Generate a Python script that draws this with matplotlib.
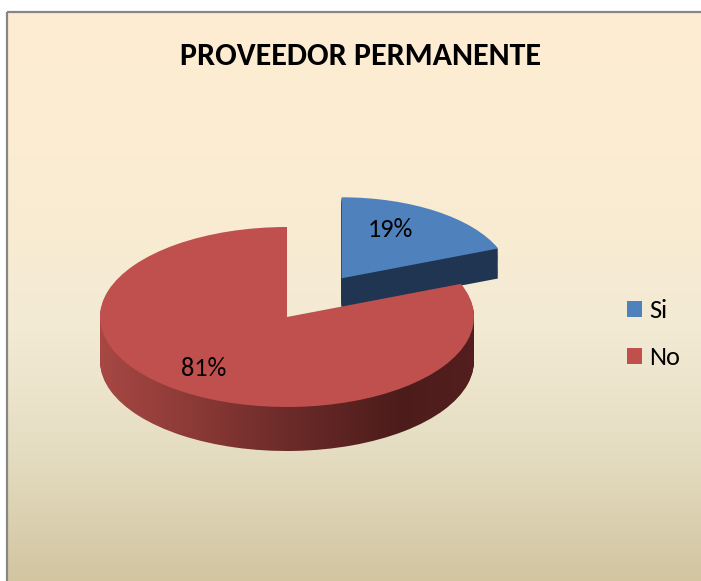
import numpy as np
import matplotlib
matplotlib.use('Agg')
import matplotlib.pyplot as plt
from matplotlib.lines import Line2D

# ---- data ----
title = 'PROVEEDOR PERMANENTE'
labels = ['Si', 'No']
values = [19, 81]
top_colors = ['#4F81BD', '#C0504D']
side_blue = '#1F3552'

FONT = ['Carlito', 'Lato', 'DejaVu Sans']

# ---- figure / layout ----
W, H = 701, 581
fig = plt.figure(figsize=(W / 100, H / 100), dpi=100)
fig.patch.set_facecolor('white')

# background panel with vertical gradient
bg = fig.add_axes([0, 0, 1, 1], zorder=0)
bg.set_xlim(0, W)
bg.set_ylim(H, 0)
bg.set_axis_off()
stops_y = np.array([12, 200, 330, 450, 581])
stops_c = np.array([[254, 237, 210], [250, 236, 210], [243, 234, 212],
                    [229, 221, 194], [210, 197, 160]]) / 255
ys = np.arange(12, H + 20)
grad = np.stack([np.interp(ys, stops_y, stops_c[:, i]) for i in range(3)], axis=-1)[:, None, :]
grad = np.repeat(grad, 8, axis=1)
bg.imshow(grad, extent=(7, W + 20, H + 20, 12), aspect='auto', interpolation='nearest')
bg.set_xlim(0, W)
bg.set_ylim(H, 0)

# grey border on left and top (figure pixel coordinates)
for xs, ys_ in (([7, 7], [12, H + 5]), ([7, W + 5], [12, 12])):
    fig.add_artist(Line2D(xs, [H - v for v in ys_], transform=None,
                          color='#868686', lw=1.6, solid_capstyle='butt'))

# pie axes: data units scaled so that a unit circle appears as a flat ellipse
ax = fig.add_axes([0, 0, 1, 1], zorder=1)
cx, cy, rx, ry = 287, 317, 187, 90
t_red = 44 / ry
t_blue = 30 / ry
r_blue = 0.9
explode = [0.52, 0]
common = dict(startangle=90, counterclock=False, explode=explode)
label_font = dict(zorder=10, fontsize=19, family=FONT)

# blue side (stacked layers)
n_b = 32
for k in range(n_b, 0, -1):
    ax.pie(values, radius=r_blue, center=(0, -t_blue * k / n_b),
           colors=[side_blue, 'none'], wedgeprops=dict(linewidth=0, zorder=1), **common)

# blue top
wb, tb, ab = ax.pie(values, radius=r_blue, colors=[top_colors[0], 'none'],
                    wedgeprops=dict(linewidth=0, zorder=2), autopct='%1.0f%%',
                    pctdistance=0.6, textprops=label_font, **common)
ab[1].set_visible(False)
x0, y0 = ab[0].get_position()
ab[0].set_position((x0 - 0.045, y0 + 0.1))

# red side with horizontal shading
side_x = np.linspace(-1, 1, 200)
sx = np.array([-1.0, -0.5, 0.0, 0.6, 1.0])
sc = np.array([[168, 72, 68], [140, 58, 55], [108, 43, 41], [76, 28, 27], [84, 31, 30]]) / 255
side_img = np.stack([np.interp(side_x, sx, sc[:, i]) for i in range(3)], axis=-1)[None, :, :]
side_img = np.repeat(side_img, 4, axis=0)
n_r = 44
for k in range(n_r, 0, -1):
    wl, _ = ax.pie(values, radius=1, center=(0, -t_red * k / n_r),
                   colors=['none', 'none'], wedgeprops=dict(linewidth=0, zorder=3), **common)
    im = ax.imshow(side_img, extent=(-1.02, 1.02, -1.1 - t_red, 1.1), aspect='auto',
                   interpolation='bilinear', zorder=3)
    im.set_clip_path(wl[1])

# red top
wr, tr, ar = ax.pie(values, radius=1, colors=['none', top_colors[1]],
                    wedgeprops=dict(linewidth=0, zorder=4), autopct='%1.0f%%',
                    pctdistance=0.75, textprops=label_font, **common)
ar[0].set_visible(False)
x1, y1 = ar[1].get_position()
ar[1].set_position((x1 - 0.025, y1 + 0.05))

ax.set_aspect('auto')
ax.set_xlim(-cx / rx, (W - cx) / rx)
ax.set_ylim(-(H - cy) / ry, cy / ry)
ax.set_axis_off()

# title
fig.text(361 / W, 1 - 65 / H, title, ha='center', va='baseline',
         fontsize=23, fontweight='bold', family=FONT)

# legend
fig.legend(handles=[wb[0], wr[1]], labels=labels, loc='upper left',
           bbox_to_anchor=(627 / W, 1 - 299 / H), bbox_transform=fig.transFigure,
           frameon=False, prop=dict(family=FONT, size=19),
           handlelength=0.57, handleheight=0.57, handletextpad=0.27,
           labelspacing=0.92, borderpad=0, borderaxespad=0)

fig.savefig('out.png', dpi=100, facecolor='white')
